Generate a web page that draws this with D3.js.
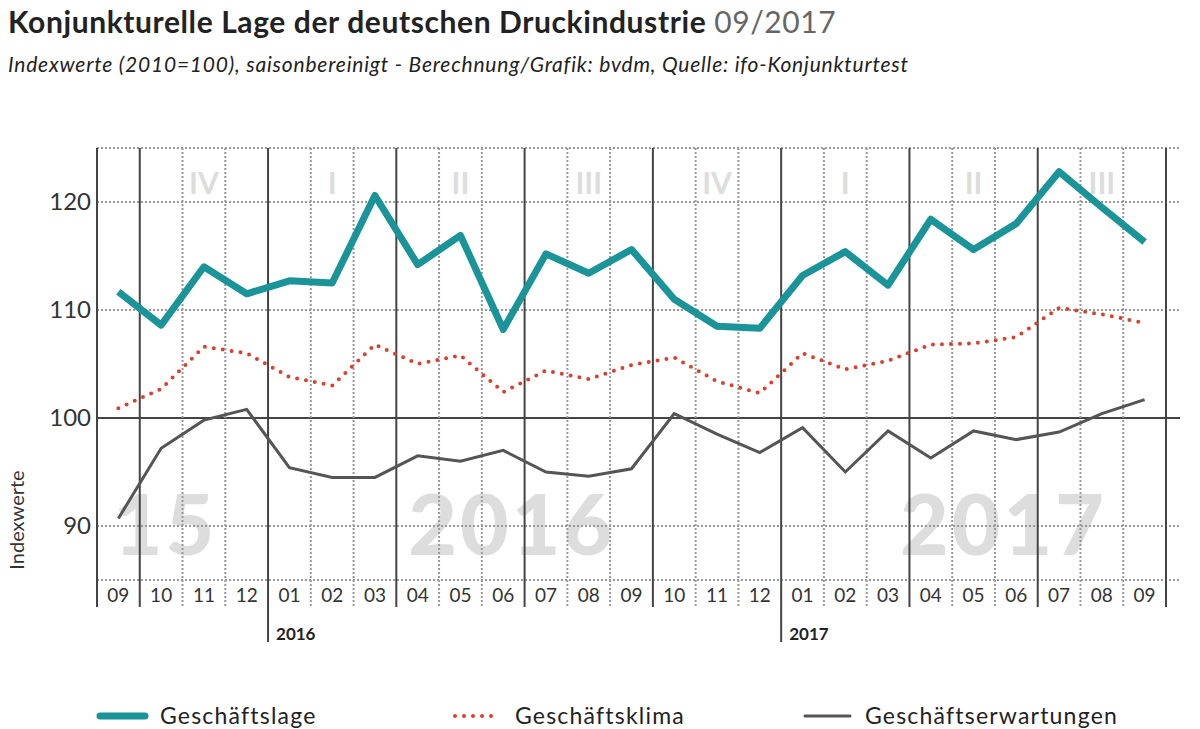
<!DOCTYPE html>
<html><head><meta charset="utf-8">
<script src="https://cdn.jsdelivr.net/npm/d3@7"></script>
<style>body{margin:0;background:#fff;font-family:Lato,"Open Sans",sans-serif}</style>
</head><body><svg id="c" width="1200" height="729"></svg>
<script>
const months=["09","10","11","12","01","02","03","04","05","06","07","08","09","10","11","12","01","02","03","04","05","06","07","08","09"];
const lage=[111.7,108.6,114,111.5,112.7,112.5,120.6,114.2,116.9,108.2,115.2,113.4,115.6,111.0,108.5,108.3,113.2,115.4,112.3,118.4,115.6,118,122.8,119.5,116.3];
const klima=[100.9,102.7,106.6,106,103.8,103,106.8,105,105.8,102.4,104.4,103.6,104.9,105.6,103.4,102.3,106,104.5,105.3,106.8,106.9,107.5,110.2,109.6,108.8];
const erw=[90.7,97.2,99.8,100.8,95.4,94.5,94.5,96.5,96,97,95,94.6,95.3,100.4,98.5,96.8,99.1,95,98.8,96.3,98.8,98,98.7,100.4,101.7];
const yTicks=[90,100,110,120];
const quarters=[{q:"IV",s:1},{q:"I",s:4},{q:"II",s:7},{q:"III",s:10},{q:"IV",s:13},{q:"I",s:16},{q:"II",s:19},{q:"III",s:22}];
const years=[{t:"15",c:1.6},{t:"2016",c:9.7},{t:"2017",c:21.2}];
const yearMarks=[{t:"2016",i:4},{t:"2017",i:16}];

const svg=d3.select("#c");
const x=d3.scaleLinear().domain([0,25]).range([97,1166]);
const y=d3.scaleLinear().domain([85,125]).range([580,148]);
const cx=i=>x(i+0.5);

svg.append("text").attr("x",8).attr("y",33).attr("font-size",30).attr("font-weight",700).attr("fill","#222").attr("letter-spacing",0.6)
 .text("Konjunkturelle Lage der deutschen Druckindustrie ").append("tspan").attr("font-weight",400).attr("fill","#666").text("09/2017");
svg.append("text").attr("x",8).attr("y",72).attr("font-size",21).attr("font-style","italic").attr("fill","#222").attr("letter-spacing",0.8)
 .text("Indexwerte (2010=100), saisonbereinigt  -  Berechnung/Grafik: bvdm, Quelle: ifo-Konjunkturtest");

years.forEach(d=>svg.append("text").attr("x",x(d.c)).attr("y",555).attr("text-anchor","middle").attr("font-size",84).attr("font-weight",900).attr("letter-spacing",3).attr("fill","#ddd").text(d.t));
quarters.forEach(d=>svg.append("text").attr("x",x(d.s+1.5)).attr("y",194).attr("text-anchor","middle").attr("font-size",30).attr("font-weight",700).attr("fill","#ddd").text(d.q));

[85,90,110,120,125].forEach(v=>svg.append("line").attr("x1",97).attr("x2",1180).attr("y1",y(v)).attr("y2",y(v)).attr("stroke","#999").attr("stroke-width",2).attr("stroke-dasharray","2,2"));
svg.append("line").attr("x1",97).attr("x2",1180).attr("y1",y(100)).attr("y2",y(100)).attr("stroke","#444").attr("stroke-width",2);

for(let i=0;i<=25;i++){
  const q=(i===0||i===25||(i-1)%3===0);
  const yr=yearMarks.some(m=>m.i===i);
  svg.append("line").attr("x1",x(i)).attr("x2",x(i)).attr("y1",y(125)).attr("y2",yr?642:607)
    .attr("stroke",q?"#444":"#999").attr("stroke-width",2).attr("stroke-dasharray",q?null:"2,2");
}
months.forEach((m,i)=>svg.append("text").attr("x",cx(i)).attr("y",602).attr("text-anchor","middle").attr("font-size",19).attr("fill","#333").text(m));
yearMarks.forEach(m=>svg.append("text").attr("x",x(m.i)+8).attr("y",640).attr("font-size",17).attr("font-weight",700).attr("fill","#222").text(m.t));

const ax=svg.append("g").attr("transform","translate(95,0)").call(d3.axisLeft(y).tickValues(yTicks).tickSize(0).tickPadding(4));
ax.select(".domain").remove();
ax.selectAll("text").attr("font-size",24).attr("font-family","Lato,sans-serif").attr("fill","#333");
svg.append("text").attr("transform","translate(24,520) rotate(-90)").attr("text-anchor","middle").attr("font-size",20).attr("fill","#333").text("Indexwerte");

const line=d3.line().x((d,i)=>cx(i)).y(d=>y(d));
svg.append("path").datum(erw).attr("d",line).attr("fill","none").attr("stroke","#555").attr("stroke-width",3);
svg.append("path").datum(klima).attr("d",line).attr("fill","none").attr("stroke","#d9412e").attr("stroke-width",4).attr("stroke-dasharray","0,9").attr("stroke-linecap","round");
svg.append("path").datum(lage).attr("d",line).attr("fill","none").attr("stroke","#1a9499").attr("stroke-width",7).attr("stroke-linejoin","round");

const leg=[{t:"Geschäftslage",x:100,c:"#1a9499",w:7,da:null},{t:"Geschäftsklima",x:455,c:"#d9412e",w:4,da:"0,9"},{t:"Geschäftserwartungen",x:805,c:"#555",w:3,da:null}];
leg.forEach(d=>{
  svg.append("line").attr("x1",d.x).attr("x2",d.x+45).attr("y1",716).attr("y2",716).attr("stroke",d.c).attr("stroke-width",d.w).attr("stroke-dasharray",d.da).attr("stroke-linecap","round");
  svg.append("text").attr("x",d.x+60).attr("y",724).attr("font-size",23).attr("letter-spacing",1.2).attr("fill","#222").text(d.t);
});
</script></body></html>
